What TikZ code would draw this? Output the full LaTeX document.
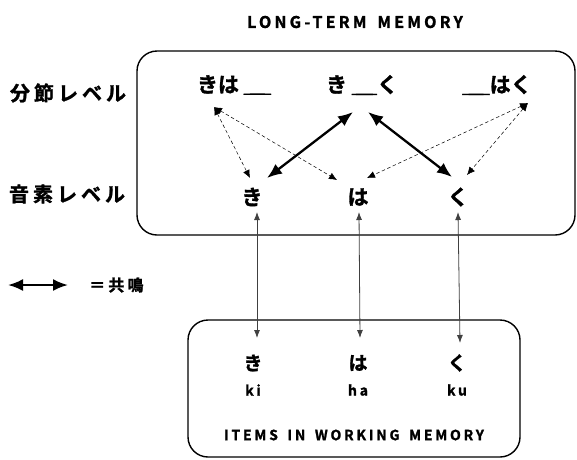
\documentclass[tikz,border=0pt]{standalone}
\usepackage{fontspec}
\setmainfont{Noto Sans CJK JP}[BoldFont={Noto Sans CJK JP Bold},BoldFeatures={FakeBold=1.5}]
\newfontfamily\spaced{Noto Sans CJK JP}[LetterSpace=20,WordSpace=1.6,BoldFont={Noto Sans CJK JP Bold},BoldFeatures={FakeBold=1.5}]
\usetikzlibrary{arrows.meta}

\begin{document}
\begin{tikzpicture}[x=1pt,y=-1pt,font=\bfseries,
        jp/.style={inner sep=0pt,font=\fontsize{21}{21}\selectfont\bfseries},
        lvl/.style={inner sep=0pt,font=\fontsize{20}{20}\spaced\bfseries},
        caps/.style={inner sep=0pt,font=\fontsize{14}{14}\spaced\bfseries},
        memo/.style={draw,line width=1.4pt,rounded corners=20pt},
        resonate/.style={{Latex[length=15pt,width=12pt]}-{Latex[length=15pt,width=12pt]},line width=2.3pt},
        prime/.style={{Latex[length=8pt,width=7pt]}-{Latex[length=8pt,width=7pt]},line width=0.5pt,dash pattern=on 3.5pt off 2.5pt},
        link/.style={{Latex[length=8pt,width=6pt]}-{Latex[length=8pt,width=6pt]},line width=0.8pt,black!75}]
        \useasboundingbox(0,0)rectangle(577,459);

        % long-term memory
        \draw[memo](137,51)rectangle(575,235);
        \node[caps,font=\fontsize{16}{16}\spaced\bfseries](ltm)at(355,22){LONG-TERM MEMORY};
        \node[lvl](seg)at(68,93){分節レベル};
        \node[lvl](phon)at(67,194){音素レベル};

        \node[jp](kiha)at(234,85){きは ＿\kern-0.7em＿};
        \node[jp](kiku)at(362,85){き ＿\kern-0.8em＿く};
        \node[jp](haku)at(497,85){＿\kern-0.7em＿はく};
        \node[jp](ki)at(252,197){き};
        \node[jp](ha)at(358,197){は};
        \node[jp](ku)at(458,197){く};

        \draw[resonate]([xshift=15pt,yshift=19pt]ki.center)--([xshift=-9pt,yshift=-27pt]kiku.center);
        \draw[resonate]([xshift=6pt,yshift=-27pt]kiku.center)--([xshift=-6pt,yshift=20pt]ku.center);

        \draw[prime]([xshift=-20pt,yshift=-22pt]kiha.center)--([xshift=-2pt,yshift=19pt]ki.center);
        \draw[prime]([xshift=-20pt,yshift=-22pt]kiha.center)--([xshift=-21pt,yshift=17pt]ha.center);
        \draw[prime]([xshift=31pt,yshift=-18pt]haku.center)--([xshift=9pt,yshift=19pt]ha.center);
        \draw[prime]([xshift=31pt,yshift=-18pt]haku.center)--([xshift=9pt,yshift=22pt]ku.center);

        % legend
        \coordinate(legl)at(8,285);
        \coordinate(legr)at(68,285);
        \draw[resonate](legl)--(legr);
        \node[inner sep=0pt,anchor=west,font=\fontsize{16}{16}\spaced\bfseries](leg)at(89,285){＝共鳴};

        % working memory
        \draw[memo](188,320)rectangle(520,457);
        \node[jp,font=\fontsize{19}{19}\selectfont\bfseries](wki)at(253,363){き};
        \node[jp,font=\fontsize{19}{19}\selectfont\bfseries](wha)at(358,363){は};
        \node[jp,font=\fontsize{19}{19}\selectfont\bfseries](wku)at(457,363){く};
        \node[caps](rki)at(253,390){ki};
        \node[caps](rha)at(358,390){ha};
        \node[caps](rku)at(457,390){ku};
        \node[caps](wm)at(354,435){ITEMS IN WORKING MEMORY};

        \draw[link]([xshift=5pt,yshift=-15pt]ki.center)--([xshift=4pt,yshift=25pt]wki.center);
        \draw[link]([xshift=1pt,yshift=-15pt]ha.center)--([xshift=2pt,yshift=25pt]wha.center);
        \draw[link]([xshift=0pt,yshift=-15pt]ku.center)--([xshift=3pt,yshift=20pt]wku.center);
\end{tikzpicture}
\end{document}
